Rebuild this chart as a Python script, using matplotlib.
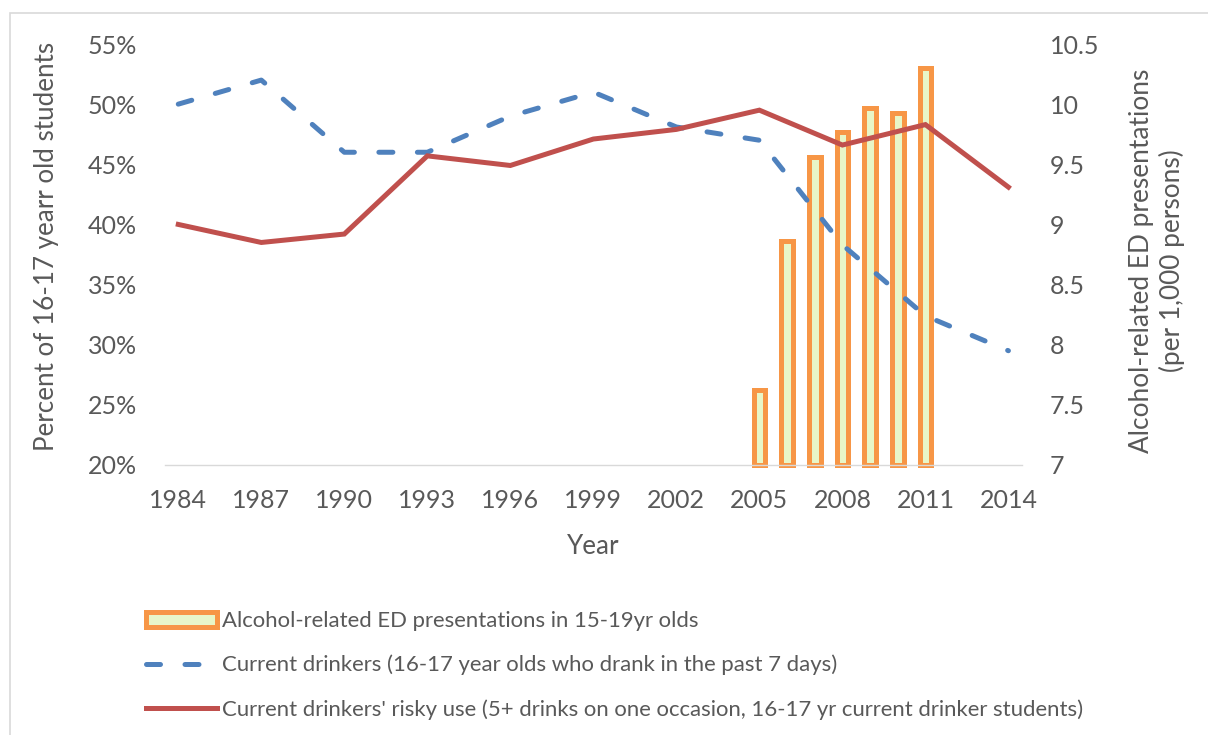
import matplotlib
matplotlib.use("Agg")
import matplotlib.pyplot as plt
from matplotlib.patches import Rectangle, Patch
from matplotlib.lines import Line2D

plt.rcParams['font.family'] = ['Lato', 'DejaVu Sans']

# survey years (lines, left axis, %)
survey_years = [1984, 1987, 1990, 1993, 1996, 1999, 2002, 2005, 2008, 2011, 2014]
current_drinkers = [50.0, 52.0, 46.0, 46.0, 49.0, 51.0, 48.1, 47.0, 38.3, 32.4, 29.5]
risky_use = [40.0, 38.5, 39.2, 45.7, 44.9, 47.1, 47.9, 49.5, 46.6, 48.3, 43.1]

# ED presentations (bars, right axis, per 1,000 persons)
ed_years = [2005, 2006, 2007, 2008, 2009, 2010, 2011]
ed_rates = [7.62, 8.86, 9.56, 9.77, 9.97, 9.93, 10.30]

tick_years = list(range(1984, 2015, 3))
left_ticks = [20, 25, 30, 35, 40, 45, 50, 55]
right_ticks = [7, 7.5, 8, 8.5, 9, 9.5, 10, 10.5]

labels = [
    "Alcohol-related ED presentations in 15-19yr olds",
    "Current drinkers (16-17 year olds who drank in the past 7 days)",
    "Current drinkers' risky use (5+ drinks on one occasion, 16-17 yr current drinker students)",
]

grey = '#595959'
blue = '#4F81BD'
red = '#C0504D'
orange = '#F79646'
fill = '#E8F6C8'
W, H = 1208, 735

fig = plt.figure(figsize=(W / 100, H / 100), dpi=100)
fig.patches.append(Rectangle((10 / W, -0.1), 1.2, 1.1 - 13 / H,
                             transform=fig.transFigure, fill=False,
                             edgecolor='#D9D9D9', lw=1.2))

ax1 = fig.add_axes([165 / W, 1 - 465 / H, (1021.7 - 165) / W, (465 - 44) / H])
ax2 = ax1.twinx()
ax1.set_zorder(2)
ax2.set_zorder(1)
ax1.patch.set_visible(False)

ax2.bar(ed_years, [v - 7 for v in ed_rates], bottom=7, width=0.42,
        color=fill, edgecolor=orange, linewidth=3.6, clip_on=False)

ax1.plot(survey_years, current_drinkers, color=blue, lw=3.6, ls=(0, (2.8, 4.9)),
         dash_capstyle='round', solid_capstyle='round')
ax1.plot(survey_years, risky_use, color=red, lw=3.6, solid_joinstyle='miter')

ax1.set_xlim(1983.52, 2014.48)
ax1.set_ylim(20, 55)
ax2.set_ylim(7, 10.5)
ax1.set_xticks(tick_years)
ax1.set_yticks(left_ticks)
ax1.set_yticklabels([f"{t}%" for t in left_ticks])
ax2.set_yticks(right_ticks)
ax2.set_yticklabels([f"{t:g}" for t in right_ticks])

for ax in (ax1, ax2):
    for s in ax.spines.values():
        s.set_visible(False)
ax1.spines['bottom'].set_visible(True)
ax1.spines['bottom'].set_color('#D9D9D9')
ax1.spines['bottom'].set_linewidth(1.0)

ax1.tick_params(axis='x', length=0, pad=17, labelsize=18, labelcolor=grey)
ax1.tick_params(axis='y', length=0, pad=20, labelsize=18, labelcolor=grey)
ax2.tick_params(axis='y', length=0, pad=20, labelsize=18, labelcolor=grey)

fig.text(47 / W, 1 - 246 / H, "Percent of 16-17 yearr old students", rotation=90,
         ha='center', va='center', fontsize=18.7, color=grey)
fig.text(1157 / W, 1 - 261 / H, "Alcohol-related ED presentations\n(per 1,000 persons)",
         rotation=90, ha='center', va='center', fontsize=18.9, color=grey,
         multialignment='center', linespacing=1.25)
fig.text(593 / W, 1 - 547 / H, "Year", ha='center', va='center', fontsize=18.7, color=grey)

handles = [
    Patch(facecolor=fill, edgecolor=orange, linewidth=3.6),
    Line2D([], [], color=blue, lw=3.6, ls=(0, (2.8, 4.9)), dash_capstyle='round'),
    Line2D([], [], color=red, lw=3.6),
]
fig.legend(handles, labels, loc='upper left', bbox_to_anchor=(146 / W, 1 - 611 / H),
           frameon=False, fontsize=15.9, labelcolor=grey, handlelength=3.2,
           handletextpad=0.25, labelspacing=1.08, borderpad=0, borderaxespad=0)

fig.savefig("out.png", dpi=100)
